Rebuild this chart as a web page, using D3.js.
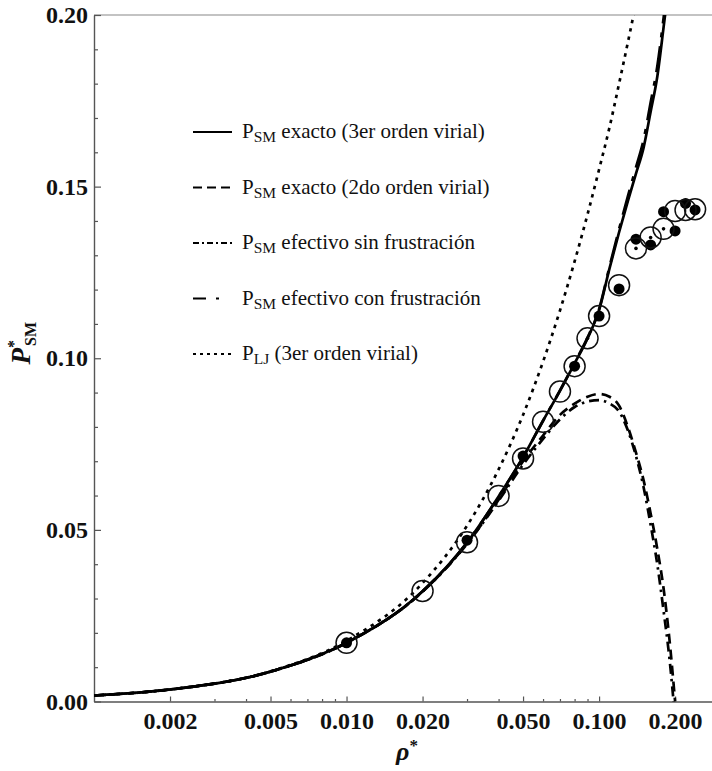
<!DOCTYPE html>
<html lang="en">
<head>
<meta charset="UTF-8">
<title>Presión SM</title>
<script src="https://d3js.org/d3.v7.min.js"></script>
<style>
  body { margin: 0; background: #fff; }
</style>
</head>
<body>
<svg width="712" height="771"></svg>
<script>
// values
const rho = [0.001, 0.002, 0.005, 0.01, 0.02, 0.03, 0.04, 0.05, 0.06, 0.07, 0.08, 0.09,
             0.1, 0.11, 0.12, 0.13, 0.14, 0.15, 0.16, 0.17, 0.18, 0.19, 0.2];

const pExacto3 = [0.00175, 0.0035, 0.0087, 0.0171, 0.0321, 0.0463, 0.0597, 0.0712, 0.0818, 0.0905, 0.0985, 0.1058,
                  0.1140, 0.1262, 0.1367, 0.1458, 0.1538, 0.1613, 0.1718, 0.1820, 0.1963, 0.2105, null];
const pExacto2 = [0.00175, 0.0035, 0.0087, 0.0171, 0.0320, 0.0460, 0.0588, 0.0700, 0.0775, 0.0835, 0.0868, 0.0888,
                  0.0896, 0.0888, 0.0862, 0.0800, 0.0725, 0.0645, 0.0548, 0.0445, 0.0330, 0.0180, 0.0];
const pSinFrust = [0.00175, 0.0035, 0.0087, 0.0171, 0.0320, 0.0459, 0.0585, 0.0690, 0.0765, 0.0822, 0.0858, 0.0874,
                   0.0878, 0.0868, 0.0845, 0.0790, 0.0715, 0.0625, 0.0515, 0.0400, 0.0265, 0.0125, -0.005];
const pConFrust = [0.00175, 0.0035, 0.0087, 0.0171, 0.0321, 0.0463, 0.0597, 0.0712, 0.0818, 0.0906, 0.0987, 0.1060,
                   0.1143, 0.1267, 0.1376, 0.1472, 0.1556, 0.1636, 0.1745, 0.1850, 0.1990, 0.2140, null];
const pLJ = [0.00175, 0.0035, 0.0088, 0.0177, 0.0345, 0.0512, 0.0676, 0.0835, 0.0990, 0.1139, 0.1282, 0.1419,
             0.1550, 0.1673, 0.1800, 0.1920, 0.2035, 0.2150, null, null, null, null, null];

// simulation points
const rhoOpen = [0.01, 0.02, 0.03, 0.04, 0.05, 0.06, 0.07, 0.08, 0.09, 0.1, 0.12, 0.14, 0.16, 0.18, 0.2, 0.22, 0.24];
const pOpen = [0.0171, 0.0322, 0.0464, 0.0599, 0.0708, 0.0815, 0.0903, 0.0977, 0.1058, 0.1123, 0.1213, 0.1320,
               0.1352, 0.1377, 0.1429, 0.1432, 0.1434];
const rhoFilled = [0.01, 0.03, 0.05, 0.08, 0.1, 0.12, 0.14, 0.16, 0.18, 0.2, 0.22, 0.24];
const pFilled = [0.0171, 0.0470, 0.0715, 0.0977, 0.1123, 0.1202, 0.1347, 0.1330, 0.1427, 0.1371, 0.1451, 0.1432];
const rhoSmall = [0.09, 0.14, 0.16, 0.18];
const pSmall = [0.1058, 0.1320, 0.1352, 0.1377];

const xMajor = [0.002, 0.005, 0.01, 0.02, 0.05, 0.1, 0.2];
const xMinor = [0.003, 0.004, 0.006, 0.007, 0.008, 0.009, 0.03, 0.04, 0.06, 0.07, 0.08, 0.09];
const yMajor = [0, 0.05, 0.1, 0.15, 0.2];
const yMinor = [0.01, 0.02, 0.03, 0.04, 0.06, 0.07, 0.08, 0.09, 0.11, 0.12, 0.13, 0.14, 0.16, 0.17, 0.18, 0.19];

const legendSub = ["SM", "SM", "SM", "SM", "LJ"];
const legendText = [" exacto (3er orden virial)", " exacto (2do orden virial)", " efectivo sin frustración",
                    " efectivo con frustración", " (3er orden virial)"];

const serif = "Liberation Serif";

const margin = { top: 15, right: 0, bottom: 69.5, left: 94 },
      width = 712 - margin.left - margin.right,
      height = 771 - margin.top - margin.bottom;

const svg = d3.select("svg")
  .append("g")
  .attr("transform", `translate(${margin.left},${margin.top})`);

const x = d3.scaleLog().domain([0.001, 0.28]).range([0, width]);
const y = d3.scaleLinear().domain([0, 0.2]).range([height, 0]);

svg.append("clipPath").attr("id", "plot")
  .append("rect").attr("width", width).attr("height", height);

// frame top
svg.append("line")
  .attr("x1", 0).attr("x2", width).attr("y1", 0).attr("y2", 0)
  .attr("stroke", "#888").attr("stroke-width", 1.2);

// axes
svg.append("g")
  .attr("transform", `translate(0,${height})`)
  .call(d3.axisBottom(x).tickValues(xMajor).tickFormat(d3.format(".3f"))
        .tickSizeInner(-5).tickSizeOuter(0).tickPadding(10));
svg.append("g")
  .attr("transform", `translate(0,${height})`)
  .call(d3.axisBottom(x).tickValues(xMinor).tickFormat("").tickSizeInner(-2.5).tickSizeOuter(0))
  .select(".domain").remove();

svg.append("g")
  .call(d3.axisLeft(y).tickValues(yMajor).tickFormat(d3.format(".2f"))
        .tickSizeInner(-7).tickSizeOuter(0).tickPadding(6));
svg.append("g")
  .call(d3.axisLeft(y).tickValues(yMinor).tickFormat("").tickSizeInner(-4).tickSizeOuter(0))
  .select(".domain").remove();

svg.selectAll("g[font-family]").attr("font-family", serif);
svg.selectAll(".domain").attr("stroke", "#555").attr("stroke-width", 1.4);
svg.selectAll(".tick line").attr("stroke", "#555").attr("stroke-width", 1.2);
svg.selectAll(".tick text")
  .attr("font-family", serif)
  .attr("font-size", 24).attr("font-weight", "bold").attr("fill", "#111");

// curves
const series = [
  { p: pExacto3, dash: null },
  { p: pExacto2, dash: "10,6" },
  { p: pSinFrust, dash: "10,5,2.5,5" },
  { p: pConFrust, dash: "26,9,5,9" },
  { p: pLJ, dash: "3.5,5" }
];

const line = d3.line()
  .defined(d => d[1] !== null)
  .x(d => x(d[0]))
  .y(d => y(d[1]))
  .curve(d3.curveMonotoneX);

const curves = svg.append("g").attr("clip-path", "url(#plot)");
series.forEach(s => {
  curves.append("path")
    .datum(rho.map((r, i) => [r, s.p[i]]))
    .attr("fill", "none")
    .attr("stroke", "#000")
    .attr("stroke-width", 2.7)
    .attr("stroke-dasharray", s.dash)
    .attr("d", line);
});

// markers
const marks = svg.append("g").attr("clip-path", "url(#plot)");
marks.selectAll("circle.filled")
  .data(rhoFilled.map((r, i) => [r, pFilled[i]]))
  .enter().append("circle")
  .attr("class", "filled")
  .attr("cx", d => x(d[0])).attr("cy", d => y(d[1]))
  .attr("r", 5.5).attr("fill", "#000");
marks.selectAll("circle.open")
  .data(rhoOpen.map((r, i) => [r, pOpen[i]]))
  .enter().append("circle")
  .attr("class", "open")
  .attr("cx", d => x(d[0])).attr("cy", d => y(d[1]))
  .attr("r", 10.5).attr("fill", "none")
  .attr("stroke", "#111").attr("stroke-width", 1.5);
marks.selectAll("circle.small")
  .data(rhoSmall.map((r, i) => [r, pSmall[i]]))
  .enter().append("circle")
  .attr("class", "small")
  .attr("cx", d => x(d[0])).attr("cy", d => y(d[1]))
  .attr("r", 1.8).attr("fill", "#000");

// legend
const legDash = ["", "9,5", "6,3,2,3", "13,10,3,20", "3,4"];
const legend = svg.append("g").attr("transform", "translate(99,117)");
legendText.forEach((t, i) => {
  const row = legend.append("g").attr("transform", `translate(0,${i * 55.5})`);
  row.append("line")
    .attr("x1", 0).attr("x2", 39).attr("y1", 0).attr("y2", 0)
    .attr("stroke", "#000").attr("stroke-width", 1.8)
    .attr("stroke-dasharray", legDash[i] || null);
  const txt = row.append("text")
    .attr("x", 49).attr("y", 6)
    .attr("font-family", serif)
    .attr("font-size", 21).attr("fill", "#111");
  txt.append("tspan").text("P");
  txt.append("tspan").attr("font-size", 15.5).attr("dy", 4).text(legendSub[i]);
  txt.append("tspan").attr("dy", -4).text(t);
});

// axis titles
const xt = svg.append("text")
  .attr("x", width / 2 + 4).attr("y", height + 58)
  .attr("text-anchor", "middle")
  .attr("font-family", serif)
  .attr("font-size", 26).attr("font-weight", "bold").attr("fill", "#111");
xt.append("tspan").attr("font-style", "italic").text("ρ");
xt.append("tspan").attr("font-size", 17).attr("dy", -9).text("*");

const yt = svg.append("text")
  .attr("transform", `translate(-64,${height / 2 - 15}) rotate(-90)`)
  .attr("text-anchor", "middle")
  .attr("font-family", serif)
  .attr("font-size", 27).attr("font-weight", "bold").attr("fill", "#111");
yt.append("tspan").attr("font-style", "italic").text("P");
yt.append("tspan").attr("font-size", 16).attr("dy", -11).text("*");
yt.append("tspan").attr("font-size", 16).attr("dx", -6).attr("dy", 17).text("SM");
</script>
</body>
</html>
